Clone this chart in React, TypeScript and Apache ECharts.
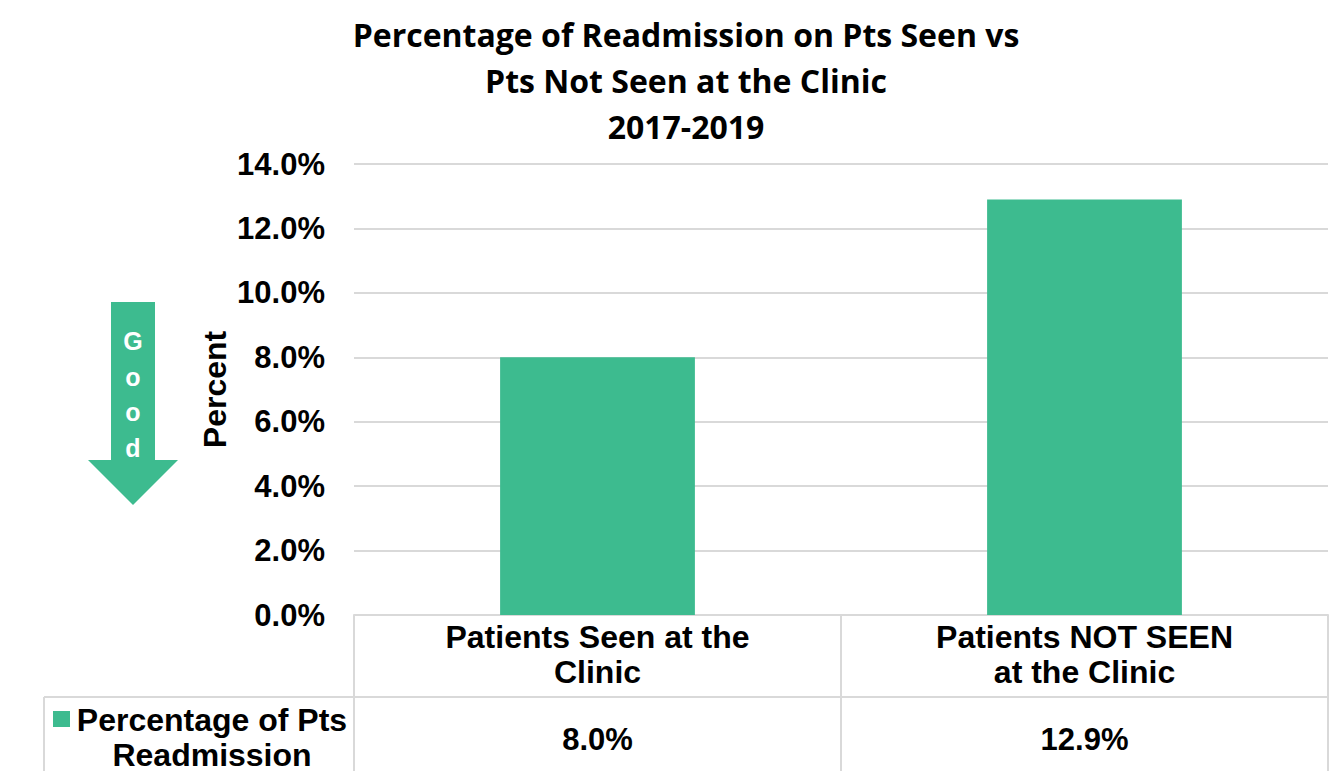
import React, { useEffect, useRef } from "react";
import * as echarts from "echarts";

const titleLines = [
  "Percentage of Readmission on Pts Seen vs",
  "Pts Not Seen at the Clinic",
  "2017-2019",
];
const categories = ["Patients Seen at the\nClinic", "Patients NOT SEEN\nat the Clinic"];
const values = [8.0, 12.9];
const seriesName = "Percentage of Pts\nReadmission";
const yMin = 0;
const yMax = 14;
const yInterval = 2;
const yAxisName = "Percent";
const arrowLetters = ["G", "o", "o", "d"];

const BAR = "#3DBB8F";
const LINE = "#D9D9D9";
const ARIAL = "'Liberation Sans', Arial, sans-serif";

export default function App() {
  const ref = useRef<HTMLDivElement>(null);
  useEffect(() => {
    const chart = echarts.init(ref.current!, null, { renderer: "svg" });
    const gridLeft = 354;
    const gridRight = 3;
    const gridTop = 164;
    const gridBottom = 156;
    chart.setOption({
      animation: false,
      backgroundColor: "#fff",
      title: {
        text: titleLines.join("\n"),
        left: 681,
        top: 6,
        textAlign: "center",
        textStyle: {
          fontFamily: "'Open Sans', Lato, sans-serif",
          fontWeight: "bold",
          fontSize: 32,
          lineHeight: 46,
          color: "#000",
        },
      },
      grid: { left: gridLeft, right: gridRight, top: gridTop, bottom: gridBottom },
      xAxis: {
        type: "category",
        data: categories,
        axisLine: { show: true, lineStyle: { color: LINE, width: 2 } },
        axisTick: { show: true, length: 170, lineStyle: { color: LINE, width: 2 } },
        axisLabel: {
          fontFamily: ARIAL,
          fontWeight: "bold",
          fontSize: 32,
          lineHeight: 35,
          color: "#000",
          margin: 4,
          interval: 0,
        },
      },
      yAxis: {
        type: "value",
        min: yMin,
        max: yMax,
        interval: yInterval,
        name: yAxisName,
        nameLocation: "middle",
        nameRotate: 90,
        nameGap: 123,
        nameMoveOverlap: false,
        nameTextStyle: {
          fontFamily: ARIAL,
          fontWeight: "bold",
          fontSize: 32,
          color: "#000",
        },
        axisLine: { show: false },
        axisTick: { show: false },
        splitLine: { lineStyle: { color: LINE, width: 2 } },
        axisLabel: {
          formatter: (v: number) => v.toFixed(1) + "%",
          fontFamily: ARIAL,
          fontWeight: "bold",
          fontSize: 31,
          color: "#000",
          margin: 29,
        },
      },
      series: [
        {
          name: seriesName,
          type: "bar",
          data: values,
          barWidth: "40%",
          itemStyle: { color: BAR },
        },
      ],
    });

    const xs = categories.map((_, i) => chart.convertToPixel({ xAxisIndex: 0 }, i) as number);
    const rowTop = 697;
    const rightX = 1331 - gridRight;
    const tableLeft = 44;
    const graphics: any[] = [
      {
        type: "line",
        shape: { x1: tableLeft, y1: rowTop, x2: rightX, y2: rowTop },
        style: { stroke: LINE, lineWidth: 2 },
      },
      {
        type: "line",
        shape: { x1: tableLeft, y1: rowTop, x2: tableLeft, y2: 771 },
        style: { stroke: LINE, lineWidth: 2 },
      },
      {
        type: "rect",
        shape: { x: 53, y: 711, width: 17, height: 16 },
        style: { fill: BAR },
      },
      {
        type: "text",
        x: 212,
        y: 702,
        style: {
          text: seriesName,
          fontFamily: ARIAL,
          fontWeight: "bold",
          fontSize: 32,
          lineHeight: 35,
          fill: "#000",
          align: "center",
          verticalAlign: "top",
        },
      },
      {
        type: "polygon",
        shape: {
          points: [
            [111, 302],
            [155, 302],
            [155, 460],
            [178, 460],
            [133, 505],
            [88, 460],
            [111, 460],
          ],
        },
        style: { fill: BAR },
      },
      ...arrowLetters.map((ch, i) => ({
        type: "text",
        x: 133,
        y: 341 + i * 35.5,
        style: {
          text: ch,
          fontFamily: ARIAL,
          fontWeight: "bold",
          fontSize: 25,
          fill: "#fff",
          align: "center",
          verticalAlign: "middle",
        },
      })),
      ...values.map((v, i) => ({
        type: "text",
        x: xs[i],
        y: 739,
        style: {
          text: v.toFixed(1) + "%",
          fontFamily: ARIAL,
          fontWeight: "bold",
          fontSize: 31,
          fill: "#000",
          align: "center",
          verticalAlign: "middle",
        },
      })),
    ];
    chart.setOption({ graphic: graphics });
    return () => chart.dispose();
  }, []);
  return (
    <div
      ref={ref}
      style={{ position: "fixed", left: 0, top: 0, width: 1331, height: 771 }}
    />
  );
}
